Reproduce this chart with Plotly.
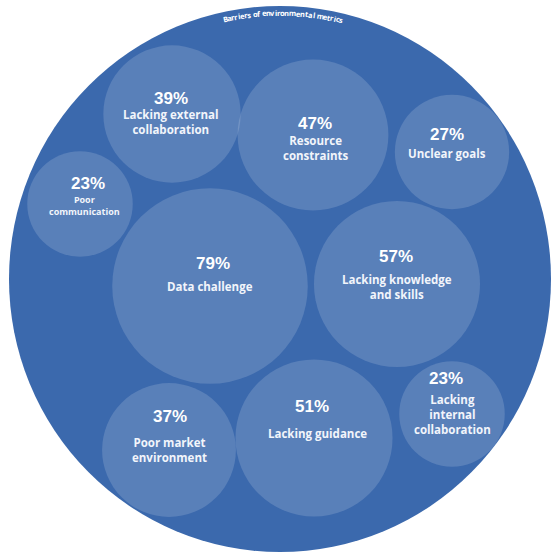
import math
import plotly.graph_objects as go

# ---- data -------------------------------------------------------------
categories = [
    "Lacking external<br>collaboration",
    "Resource<br>constraints",
    "Unclear goals",
    "Poor<br>communication",
    "Data challenge",
    "Lacking knowledge<br>and skills",
    "Poor market<br>environment",
    "Lacking guidance",
    "Lacking<br>internal<br>collaboration",
]
values = [39, 47, 27, 23, 79, 57, 37, 51, 23]
title_text = "Barriers of environmental metrics"

# ---- packed layout (pixel space, y grows downward) --------------------
centre_x = [172, 313, 452, 80, 210, 397, 169, 314, 452]
centre_y = [114, 135, 152, 204, 286, 284, 450, 438, 414]
pct_pos = [(171, 98), (315, 123), (447, 134), (88, 183), (213, 263),
           (396, 256), (170, 416), (312, 406), (446, 378)]
label_pos = [(171, 122), (316, 148), (447, 153), (84, 205), (210, 286),
             (397, 287), (169, 450), (317, 433), (452, 414)]
label_size = [11.5, 11.5, 11.5, 9, 11.5, 11.5, 11.5, 11.5, 11.5]

W, H = 554, 553
OUTER_CX, OUTER_CY, OUTER_RX, OUTER_RY = 280, 279, 271, 273
SCALE = 11.0  # px of radius per sqrt(percent) -> bubble area ~ value

OUTER_COLOR = "#3b69ad"
BUBBLE_COLOR = "rgba(255,255,255,0.22)"

fig = go.Figure()

# outer enclosing circle
fig.add_shape(type="circle", xref="x", yref="y",
              x0=OUTER_CX - OUTER_RX, x1=OUTER_CX + OUTER_RX,
              y0=OUTER_CY - OUTER_RY, y1=OUTER_CY + OUTER_RY,
              fillcolor=OUTER_COLOR, line=dict(width=0), layer="below")

# bubbles: diameter from value (area proportional to percentage)
sizes = [2 * SCALE * math.sqrt(v) for v in values]
fig.add_trace(go.Scatter(
    x=centre_x, y=centre_y, mode="markers",
    marker=dict(size=sizes, sizemode="diameter", color=BUBBLE_COLOR,
                line=dict(width=0)),
    hoverinfo="skip", showlegend=False,
))

annotations = []
for v, cat, (px, py), (lx, ly), fs in zip(values, categories, pct_pos,
                                          label_pos, label_size):
    annotations.append(dict(
        x=px, y=py, xref="x", yref="y", text=f"<b>{v}%</b>", showarrow=False,
        font=dict(family="Liberation Sans, Arial, sans-serif", size=17, color="white"),
        xanchor="center", yanchor="middle"))
    annotations.append(dict(
        x=lx, y=ly, xref="x", yref="y", text=f"<b>{cat}</b>", showarrow=False,
        font=dict(family="Open Sans, sans-serif", size=fs, color="#f2f5fb"),
        xanchor="center", yanchor="middle", align="center"))

# curved title along the top of the outer circle
# approximate bold advance widths (em)
ADV = {"B": 0.68, "a": 0.6, "r": 0.43, "i": 0.3, "e": 0.6, "s": 0.5,
       "o": 0.62, "f": 0.39, "n": 0.66, "v": 0.56, "m": 0.98, "t": 0.43,
       "l": 0.3, "c": 0.5, " ": 0.26}

title_size = 7.5
R_TXT = OUTER_CY - 13
total = sum(ADV.get(c, 0.6) for c in title_text)
arc_len = 121.0
unit = arc_len / total
mid_x = 283
theta_mid = math.asin((mid_x - OUTER_CX) / R_TXT)
pos = -arc_len / 2
for ch in title_text:
    w = ADV.get(ch, 0.6) * unit
    s = pos + w / 2
    pos += w
    if ch == " ":
        continue
    th = theta_mid + s / R_TXT
    annotations.append(dict(
        x=OUTER_CX + R_TXT * math.sin(th), y=OUTER_CY - R_TXT * math.cos(th),
        xref="x", yref="y", text=f"<b>{ch}</b>", showarrow=False,
        textangle=math.degrees(th),
        font=dict(family="Open Sans, sans-serif", size=title_size, color="white"),
        xanchor="center", yanchor="middle"))

fig.update_layout(
    width=W, height=H,
    margin=dict(l=0, r=0, t=0, b=0),
    paper_bgcolor="white", plot_bgcolor="white",
    xaxis=dict(range=[0, W], visible=False, fixedrange=True),
    yaxis=dict(range=[H, 0], visible=False, fixedrange=True),
    annotations=annotations,
    showlegend=False,
)

fig.write_html("out.html")
